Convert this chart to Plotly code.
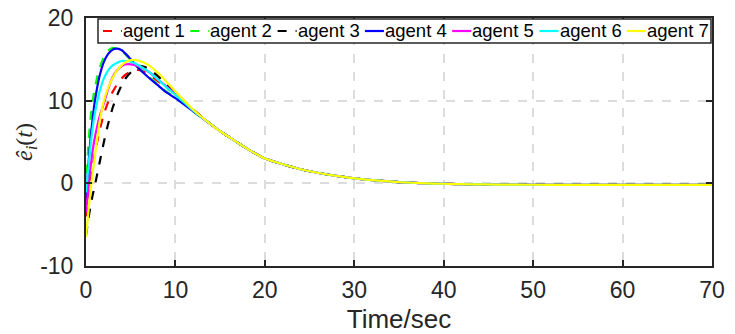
import plotly.graph_objects as go

# ---- data ----
t_early = [0, 0.25, 0.5, 0.75, 1, 1.5, 2, 2.5, 3, 3.5, 4, 4.5, 5, 5.5, 6, 7, 8, 9, 10, 12]
agent1 = [-4.0, -1.8, 0.2, 2.0, 3.6, 6.3, 8.4, 9.9, 11.1, 12.0, 12.7, 13.2, 13.5, 13.7, 13.7, 13.2, 12.4, 11.6, 10.8, 8.9]
agent2 = [-1.0, 4.5, 7.8, 10.0, 11.6, 13.9, 15.3, 16.1, 16.4, 16.3, 16.0, 15.5, 14.9, 14.3, 13.8, 12.9, 12.0, 11.1, 10.4, 8.7]
agent3 = [-6.3, -4.4, -2.8, -1.4, -0.2, 2.4, 5.0, 7.3, 9.2, 10.7, 11.9, 12.8, 13.4, 13.9, 14.2, 13.9, 13.0, 12.0, 11.0, 8.9]
agent4 = [-2.3, 2.0, 5.3, 7.9, 10.0, 12.9, 14.7, 15.7, 16.2, 16.3, 16.1, 15.6, 15.0, 14.4, 13.8, 12.8, 11.9, 11.0, 10.3, 8.7]
agent5 = [-3.5, -0.7, 1.9, 4.0, 5.6, 8.0, 9.7, 11.5, 12.9, 13.7, 14.2, 14.4, 14.4, 14.3, 14.1, 13.5, 12.6, 11.7, 10.8, 8.8]
agent6 = [-1.1, 1.8, 4.5, 6.8, 8.5, 11.0, 12.7, 13.7, 14.3, 14.6, 14.8, 14.8, 14.7, 14.5, 14.2, 13.5, 12.6, 11.6, 10.7, 8.8]
agent7 = [-6.5, -3.6, -1.0, 1.3, 3.3, 7.3, 10.0, 11.6, 12.8, 13.7, 14.3, 14.7, 14.9, 14.9, 14.8, 14.3, 13.4, 12.3, 11.1, 8.9]

t_tail = [14, 15, 16, 18, 20, 22, 24, 26, 28, 30, 32, 35, 38, 40, 43, 46, 50, 55, 60, 65, 70]
tail = [7.1, 6.3, 5.6, 4.2, 3.0, 2.3, 1.7, 1.25, 0.9, 0.6, 0.4, 0.15, 0.0, -0.05,
        -0.12, -0.15, -0.17, -0.18, -0.18, -0.18, -0.18]

names = ["agent 1", "agent 2", "agent 3", "agent 4", "agent 5", "agent 6", "agent 7"]
series = [agent1, agent2, agent3, agent4, agent5, agent6, agent7]
colors = ["#ff0000", "#00ff00", "#000000", "#0000ff", "#ff00ff", "#00ffff", "#ffff00"]
dashes = ["dash", "dash", "dash", "solid", "solid", "solid", "solid"]

x_ticks = [0, 10, 20, 30, 40, 50, 60, 70]
x_ticktext = ["0", "10", "20", "30", "40", "50", "60", "70"]
y_ticks = [-10, 0, 10, 20]
y_ticktext = ["-10", "0", "10", "20"]

fig = go.Figure()
for name, vals, col, d in zip(names, series, colors, dashes):
    fig.add_trace(go.Scatter(
        x=t_early + t_tail, y=vals + tail, name=name, mode="lines", showlegend=False,
        line=dict(color=col, width=2.2, dash=d, shape="spline", smoothing=0.5),
    ))

axis_common = dict(
    showline=True, linecolor="#262626", linewidth=2, mirror="ticks",
    ticks="inside", ticklen=6, tickwidth=1.5, tickcolor="#262626",
    showgrid=True, gridcolor="#dcdcdc", gridwidth=1.5, griddash="dash",
    zeroline=False, automargin=False,
    tickfont=dict(family="Liberation Sans, Arial", size=23, color="#262626"),
)

fig.update_xaxes(range=[0, 70], tickvals=x_ticks, ticktext=x_ticktext, ticklabelstandoff=2, **axis_common,
                 title=dict(text="Time/sec", font=dict(family="Liberation Sans, Arial", size=26, color="#262626"),
                            standoff=8))
fig.update_yaxes(range=[-10, 20], tickvals=y_ticks, ticktext=y_ticktext, ticklabelstandoff=6, **axis_common,
                 title=dict(text="<i>ê<sub>i</sub></i>(<i>t</i>)",
                            font=dict(family="Liberation Serif, Times New Roman", size=24, color="#262626"),
                            standoff=1))

# ---- custom MATLAB-style legend (layout only) ----
W = 626.0
H = 248.0
def px(xp):
    return (xp - 86) / W
def py(yp):
    return (266 - yp) / H

shapes = [dict(type="rect", xref="paper", yref="paper", x0=px(98), x1=px(711), y0=py(43), y1=py(19),
               line=dict(color="#262626", width=1.5), fillcolor="white", layer="above")]
annotations = []
for k, (name, col, d) in enumerate(zip(names, colors, dashes)):
    x0 = 103 + 87.3 * k
    dash = "9px,9px" if d == "dash" else "solid"
    shapes.append(dict(type="line", xref="paper", yref="paper", x0=px(x0), x1=px(x0 + 19),
                       y0=py(31), y1=py(31), line=dict(color=col, width=2.2, dash=dash), layer="above"))
    annotations.append(dict(xref="paper", yref="paper", x=px(x0 + 18), y=py(31), xanchor="left", yanchor="middle",
                            text=name, showarrow=False,
                            font=dict(family="Liberation Sans, Arial", size=18.5, color="black")))

fig.update_layout(
    width=735, height=334,
    margin=dict(l=86, r=23, t=18, b=68),
    plot_bgcolor="white", paper_bgcolor="white",
    showlegend=False,
    shapes=shapes, annotations=annotations,
)

fig.write_html("out.html", config={"displayModeBar": False},
               post_script="document.body.style.margin='0';document.body.style.overflow='hidden';")
